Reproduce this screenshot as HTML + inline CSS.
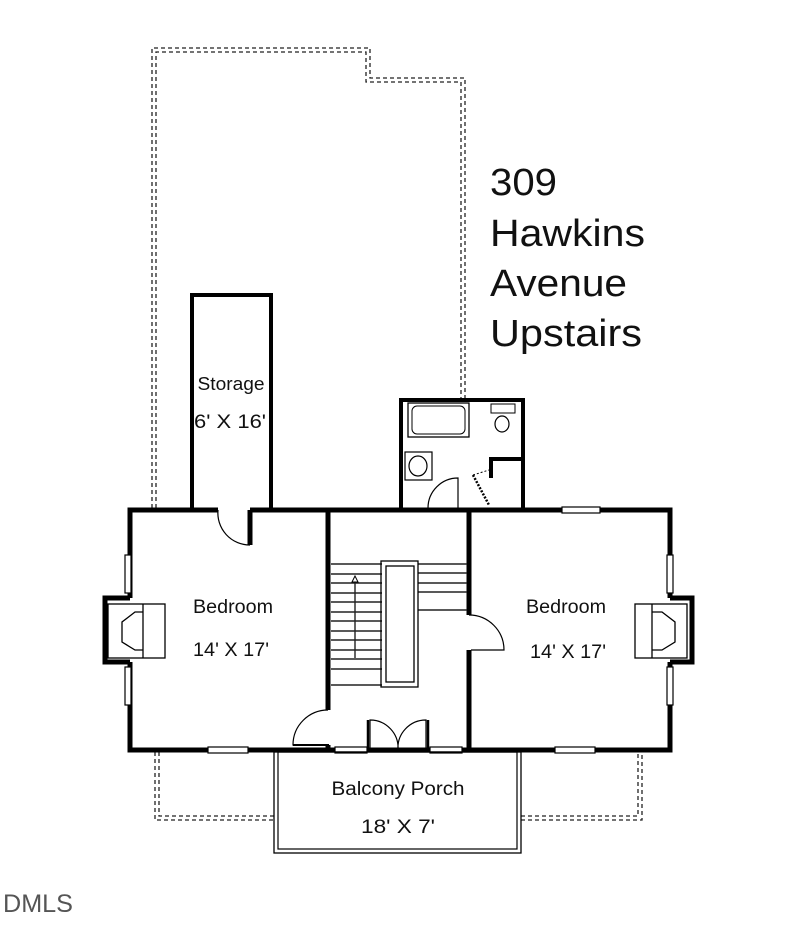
<!DOCTYPE html>
<html><head><meta charset="utf-8"><style>
html,body{margin:0;padding:0;background:#fff;}
svg{display:block}
text{font-family:"Liberation Sans",Arial,sans-serif;fill:#111}
</style></head><body>
<svg width="800" height="945" viewBox="0 0 800 945" xmlns="http://www.w3.org/2000/svg">
<g fill="none" stroke="#222" stroke-width="1.3" stroke-dasharray="4,3">
  <path d="M152,508 V48 H370 V78 H465 V400"/>
  <path d="M156,508 V52 H366 V82 H461 V400"/>
  <path d="M155,752 V820 H274"/>
  <path d="M159,752 V816 H274"/>
  <path d="M521,820 H642 V752"/>
  <path d="M521,816 H638 V752"/>
</g>
<path d="M192,508 V295 H271 V508" fill="none" stroke="#000" stroke-width="4"/>
<path d="M401,508 V400 H523 V508" fill="none" stroke="#000" stroke-width="4"/>
<path d="M489,459 H521 M491,457 V478" stroke="#000" stroke-width="4" fill="none"/>
<rect x="408" y="403" width="61" height="34" fill="none" stroke="#000" stroke-width="1.3"/>
<rect x="412" y="406" width="53" height="28" rx="5" fill="none" stroke="#000" stroke-width="1"/>
<rect x="491" y="404" width="24" height="9" fill="none" stroke="#000" stroke-width="1"/>
<ellipse cx="502" cy="424" rx="7" ry="8" fill="none" stroke="#000" stroke-width="1.2"/>
<rect x="405" y="452" width="27" height="28" fill="none" stroke="#000" stroke-width="1.2"/>
<ellipse cx="418" cy="466" rx="9" ry="10" fill="none" stroke="#000" stroke-width="1.2"/>
<path d="M428,508 A30,30 0 0 1 458,478 V508" fill="none" stroke="#000" stroke-width="1.2"/>
<path d="M473,475 L489,505" stroke="#000" stroke-width="2.5" stroke-dasharray="2,1.5"/>
<path d="M473,475 L489,470" stroke="#000" stroke-width="1" stroke-dasharray="2,2"/>
<g stroke="#000" stroke-width="5" fill="none">
  <path d="M218,510 H130 V598 M130,662 V750 H670 V662 M670,598 V510 H250"/>
  <path d="M250,510 V545"/>
  <path d="M328,510 V710"/>
  <path d="M328,745 V750"/>
  <path d="M469,510 V615 M469,650 V750"/>
  <path d="M130,598 H105 V662 H130 M670,598 H692 V662 H670"/>
</g>
<path d="M271,510 H401 M523,510 H560" stroke="#000" stroke-width="5"/>
<g fill="none" stroke="#000" stroke-width="1.2">
  <path d="M218,510 A32,32 0 0 0 250,545"/>
  <path d="M469,615 A35,35 0 0 1 504,650 H471"/>
  <path d="M328,710 A35,35 0 0 0 293,745 H328"/>
  <path d="M370,752 V720 A28,28 0 0 1 398,750 A28,28 0 0 1 426,720 V752"/>
</g>
<path d="M293,745 H328 V752" stroke="#000" stroke-width="2" fill="none"/>
<path d="M368,720 V752 M428,720 V752" stroke="#000" stroke-width="2.5"/>
<g fill="#fff" stroke="#000" stroke-width="1.2">
  <rect x="125" y="555" width="6" height="38"/>
  <rect x="125" y="667" width="6" height="38"/>
  <rect x="667" y="555" width="6" height="38"/>
  <rect x="667" y="667" width="6" height="38"/>
  <rect x="208" y="747" width="40" height="6"/>
  <rect x="335" y="747" width="32" height="6"/>
  <rect x="430" y="747" width="32" height="6"/>
  <rect x="555" y="747" width="40" height="6"/>
  <rect x="562" y="507" width="38" height="6"/>
</g>
<g fill="none" stroke="#000" stroke-width="1.3">
  <rect x="108" y="604" width="57" height="54"/>
  <path d="M143,604 V658 M143,612 H135 L122,622 V642 L135,650 H143"/>
  <rect x="635" y="604" width="52" height="54"/>
  <path d="M652,604 V658 M652,612 H662 L675,622 V642 L662,650 H652"/>
</g>
<g stroke="#222" stroke-width="1.4">
  <path d="M331,564 H382 M331,574 H382 M331,583 H382 M331,593 H382 M331,602 H382 M331,612 H382 M331,621 H382 M331,631 H382 M331,640 H382 M331,650 H382 M331,659 H382 M331,669 H382 M331,685 H382"/>
  <path d="M418,564 H467 M418,573 H467 M418,583 H467 M418,592 H467 M418,610 H467"/>
  <path d="M355,582 V658"/>
</g>
<rect x="381" y="561" width="37" height="126" fill="none" stroke="#000" stroke-width="1.3"/>
<rect x="386" y="566" width="28" height="116" fill="none" stroke="#000" stroke-width="1.3"/>
<path d="M352,582 L355,576 L358,582 Z" fill="none" stroke="#000"/>
<rect x="274" y="752" width="247" height="101" fill="none" stroke="#000" stroke-width="1.3"/>
<rect x="278" y="752" width="239" height="97" fill="none" stroke="#000" stroke-width="1.2"/>
<text x="231" y="390" font-size="18" text-anchor="middle" textLength="67" lengthAdjust="spacingAndGlyphs">Storage</text>
<text x="230" y="428" font-size="19" text-anchor="middle" textLength="72" lengthAdjust="spacingAndGlyphs">6' X 16'</text>
<text x="233" y="613" font-size="19" text-anchor="middle" textLength="80" lengthAdjust="spacingAndGlyphs">Bedroom</text>
<text x="231" y="656" font-size="19" text-anchor="middle" textLength="76" lengthAdjust="spacingAndGlyphs">14' X 17'</text>
<text x="566" y="613" font-size="19" text-anchor="middle" textLength="80" lengthAdjust="spacingAndGlyphs">Bedroom</text>
<text x="568" y="658" font-size="19" text-anchor="middle" textLength="76" lengthAdjust="spacingAndGlyphs">14' X 17'</text>
<text x="398" y="795" font-size="19" text-anchor="middle" textLength="133" lengthAdjust="spacingAndGlyphs">Balcony Porch</text>
<text x="398" y="833" font-size="19" text-anchor="middle" textLength="74" lengthAdjust="spacingAndGlyphs">18' X 7'</text>
<g font-size="38">
  <text x="490" y="195" textLength="67" lengthAdjust="spacingAndGlyphs">309</text>
  <text x="490" y="246" textLength="155" lengthAdjust="spacingAndGlyphs">Hawkins</text>
  <text x="490" y="296" textLength="137" lengthAdjust="spacingAndGlyphs">Avenue</text>
  <text x="490" y="346" textLength="152" lengthAdjust="spacingAndGlyphs">Upstairs</text>
</g>
<text x="3" y="912" font-size="25" style="fill:#555" textLength="70" lengthAdjust="spacingAndGlyphs">DMLS</text>
</svg>
</body></html>
